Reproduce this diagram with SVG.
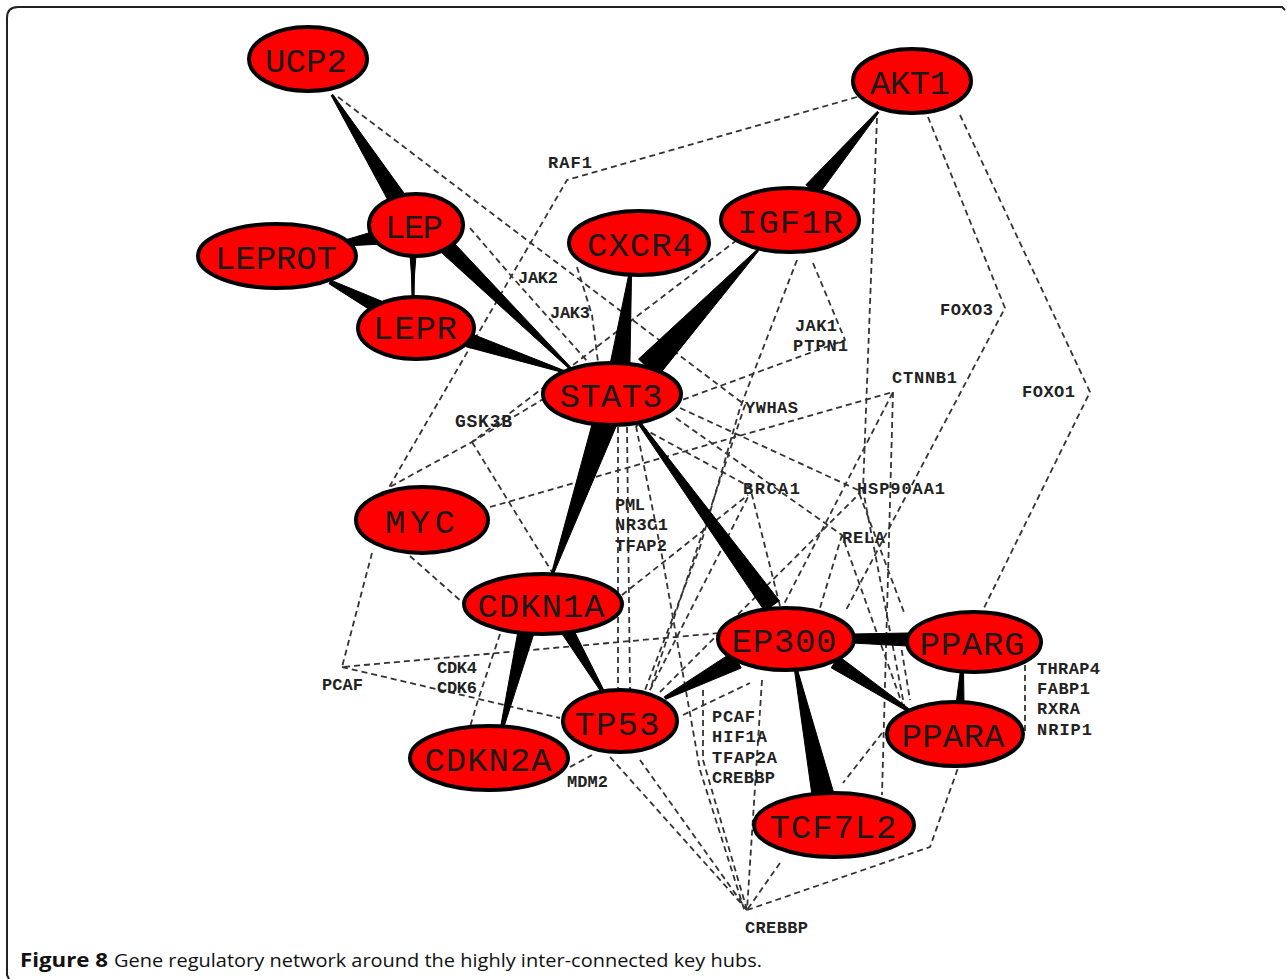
<svg xmlns="http://www.w3.org/2000/svg" width="1287" height="979" viewBox="0 0 1287 979">
<style>
.bg{fill:#fff}
.frame{fill:none;stroke:#222;stroke-width:2}
.d{fill:none;stroke:#333;stroke-width:1.8;stroke-dasharray:6 4}
.w{fill:#000;stroke:#000;stroke-width:1;stroke-linejoin:round}
.n ellipse{fill:#f00;stroke:#000;stroke-width:4}
.n text{font-family:"Liberation Mono","DejaVu Sans Mono",monospace;font-size:34px;fill:#1a1a1a;text-anchor:middle}
.lb{font-family:"Liberation Mono","DejaVu Sans Mono",monospace;font-size:17px;font-weight:bold;fill:#222}
.cap{font-family:"Open Sans","Noto Sans",sans-serif;font-size:19px;fill:#111}
</style>
<rect class="bg" x="0" y="0" width="1287" height="979"/>
<path class="frame" d="M9,979 L7,975 L7,18 Q7,7 18,7 L1282,7 L1285,10"/>

<g id="connectors">
  <g id="dashed">
    <path class="d" d="M857,97 L567,180 L388,489"/>
    <path class="d" d="M338,97 L745,405 L650,690"/>
    <path class="d" d="M470,228 L513,278 L588,362"/>
    <path class="d" d="M577,267 L592,315 L598,362"/>
    <path class="d" d="M737,240 L472,442 L388,488"/>
    <path class="d" d="M472,442 L552,572"/>
    <path class="d" d="M545,398 L472,442"/>
    <path class="d" d="M813,263 L845,340 L682,400"/>
    <path class="d" d="M797,260 L740,408 L700,547 L645,690"/>
    <path class="d" d="M877,118 L863,490 L905,710"/>
    <path class="d" d="M928,117 L1005,308 L845,612"/>
    <path class="d" d="M960,115 L1090,392 L983,610"/>
    <path class="d" d="M490,507 L893,392 L783,606"/>
    <path class="d" d="M893,392 L882,795"/>
    <path class="d" d="M633,423 L750,487 L780,606"/>
    <path class="d" d="M680,408 L858,490 L905,615"/>
    <path class="d" d="M676,418 L842,535 L905,712"/>
    <path class="d" d="M842,535 L820,608"/>
    <path class="d" d="M622,595 L748,495"/>
    <path class="d" d="M618,427 L618,688"/>
    <path class="d" d="M627,427 L630,690"/>
    <path class="d" d="M636,426 L662,556 L700,770 L745,912"/>
    <path class="d" d="M372,553 L342,667 L720,633"/>
    <path class="d" d="M342,667 L560,718"/>
    <path class="d" d="M410,556 L462,602"/>
    <path class="d" d="M500,634 L478,700 L470,727"/>
    <path class="d" d="M610,757 L747,910"/>
    <path class="d" d="M640,760 L747,910"/>
    <path class="d" d="M570,767 L592,755"/>
    <path class="d" d="M683,715 L750,683"/>
    <path class="d" d="M762,680 L747,910"/>
    <path class="d" d="M703,690 L703,760 L747,910"/>
    <path class="d" d="M780,863 L747,910"/>
    <path class="d" d="M747,910 L930,847 L958,768"/>
    <path class="d" d="M882,733 L843,783"/>
    <path class="d" d="M1025,665 L1025,735"/>
    <path class="d" d="M650,690 L748,497"/>
    <path class="d" d="M660,692 L860,493"/>
    <path class="d" d="M900,640 L910,700"/>
  </g>
  <g id="solid">
    <polygon class="w" points="331.2,95.5 332.9,94.5 405.6,195.3 390.4,204.7"/>
    <polygon class="w" points="345,246 345,240 382,229 382,244"/>
    <polygon class="w" points="410,255 416,255 414.5,275 414,300 412,300 411.5,275"/>
    <polygon class="w" points="329.1,283.8 330.9,280.2 383.2,301.8 376.8,314.2"/>
    <polygon class="w" points="439.4,250.7 450.6,239.3 572.7,369.3 571.3,370.7"/>
    <polygon class="w" points="465.8,346.7 470.2,333.3 565.3,371 564.7,373"/>
    <polygon class="w" points="628.5,275.8 631.5,276.2 629.9,366.1 610.1,363.9"/>
    <polygon class="w" points="757.3,249.3 758.7,250.7 657.5,376.9 638.5,359.1"/>
    <polygon class="w" points="877.2,111.4 878.8,112.6 818.1,195.2 805.9,184.8"/>
    <polygon class="w" points="593.7,418.1 616.3,425.9 552.9,575.3 551.1,574.7"/>
    <polygon class="w" points="638.8,424.9 641.2,423.1 779.3,600.7 764.7,611.3"/>
    <polygon class="w" points="518.2,630.1 533.8,633.9 503.5,728.4 500.5,727.6"/>
    <polygon class="w" points="562.8,635 573.2,629 604.3,691.2 601.7,692.8"/>
    <polygon class="w" points="665.7,699.3 664.3,696.7 732.8,652 741.2,668"/>
    <polygon class="w" points="852,634 852,643 908,646 908,633"/>
    <polygon class="w" points="831.2,667.8 838.8,656.2 908.8,708.7 907.2,711.3"/>
    <polygon class="w" points="794.5,670.3 797.5,669.7 833.7,792.7 812.3,797.3"/>
    <polygon class="w" points="960.5,670 963.5,670 964,704 956,704"/>
  </g>
</g>

<g id="labels">
  <text class="lb" x="548" y="168" textLength="44">RAF1</text>
  <text class="lb" x="518" y="283" textLength="40">JAK2</text>
  <text class="lb" x="550" y="318" textLength="40">JAK3</text>
  <text class="lb" x="795" y="331" textLength="42">JAK1</text>
  <text class="lb" x="793" y="351" textLength="55">PTPN1</text>
  <text class="lb" x="940" y="315" textLength="53">FOXO3</text>
  <text class="lb" x="892" y="383" textLength="65">CTNNB1</text>
  <text class="lb" x="1022" y="397" textLength="53">FOXO1</text>
  <text class="lb" x="745" y="413" textLength="53">YWHAS</text>
  <text class="lb" x="455" y="427" textLength="57" style="font-size:18px">GSK3B</text>
  <text class="lb" x="743" y="494" textLength="57">BRCA1</text>
  <text class="lb" x="857" y="494" textLength="88">HSP90AA1</text>
  <text class="lb" x="842" y="543" textLength="43">RELA</text>
  <text class="lb" x="615" y="510" textLength="30">PML</text>
  <text class="lb" x="615" y="530" textLength="53">NR3C1</text>
  <text class="lb" x="615" y="551" textLength="52">TFAP2</text>
  <text class="lb" x="437" y="673" textLength="40">CDK4</text>
  <text class="lb" x="437" y="693" textLength="40">CDK6</text>
  <text class="lb" x="322" y="690" textLength="41">PCAF</text>
  <text class="lb" x="567" y="787" textLength="41">MDM2</text>
  <text class="lb" x="712" y="722" textLength="43">PCAF</text>
  <text class="lb" x="712" y="742" textLength="55">HIF1A</text>
  <text class="lb" x="712" y="763" textLength="65">TFAP2A</text>
  <text class="lb" x="712" y="783" textLength="63">CREBBP</text>
  <text class="lb" x="1037" y="674" textLength="63">THRAP4</text>
  <text class="lb" x="1037" y="694" textLength="53">FABP1</text>
  <text class="lb" x="1037" y="714" textLength="43">RXRA</text>
  <text class="lb" x="1037" y="735" textLength="55">NRIP1</text>
  <text class="lb" x="745" y="933" textLength="63">CREBBP</text>
</g>

<g id="UCP2" class="n"><ellipse cx="308" cy="59" rx="59" ry="32"/><text x="306" y="72" textLength="82">UCP2</text></g>
<g id="AKT1" class="n"><ellipse cx="912" cy="81" rx="59" ry="32"/><text x="910" y="94" textLength="80">AKT1</text></g>
<g id="LEP" class="n"><ellipse cx="416" cy="225" rx="47" ry="31"/><text x="414" y="238" textLength="58">LEP</text></g>
<g id="LEPROT" class="n"><ellipse cx="277" cy="256" rx="79" ry="32"/><text x="276" y="269" textLength="122">LEPROT</text></g>
<g id="LEPR" class="n"><ellipse cx="416" cy="328" rx="58" ry="31"/><text x="415" y="339" textLength="84">LEPR</text></g>
<g id="CXCR4" class="n"><ellipse cx="639" cy="243" rx="70" ry="32"/><text x="640" y="256" textLength="106">CXCR4</text></g>
<g id="IGF1R" class="n"><ellipse cx="790" cy="220" rx="69" ry="32"/><text x="790" y="233" textLength="106">IGF1R</text></g>
<g id="STAT3" class="n"><ellipse cx="612" cy="394" rx="69" ry="31"/><text x="611" y="407" textLength="103">STAT3</text></g>
<g id="MYC" class="n"><ellipse cx="422" cy="520" rx="66" ry="33"/><text x="420" y="533" textLength="70">MYC</text></g>
<g id="CDKN1A" class="n"><ellipse cx="543" cy="604" rx="79" ry="30"/><text x="541" y="617" textLength="127">CDKN1A</text></g>
<g id="EP300" class="n"><ellipse cx="786" cy="639" rx="68" ry="31"/><text x="784" y="652" textLength="105">EP300</text></g>
<g id="PPARG" class="n"><ellipse cx="974" cy="642" rx="67" ry="30"/><text x="972" y="655" textLength="105">PPARG</text></g>
<g id="PPARA" class="n"><ellipse cx="955" cy="734" rx="68" ry="32"/><text x="953" y="747" textLength="103">PPARA</text></g>
<g id="TP53" class="n"><ellipse cx="620" cy="721" rx="57" ry="31"/><text x="617" y="735" textLength="85">TP53</text></g>
<g id="CDKN2A" class="n"><ellipse cx="489" cy="758" rx="79" ry="32"/><text x="488" y="771" textLength="127">CDKN2A</text></g>
<g id="TCF7L2" class="n"><ellipse cx="834" cy="825" rx="80" ry="32"/><text x="833" y="838" textLength="127">TCF7L2</text></g>

<g id="caption">
  <text class="cap" x="20" y="967" font-weight="bold" textLength="88" lengthAdjust="spacingAndGlyphs">Figure 8</text>
  <text class="cap" x="114" y="967" textLength="648" lengthAdjust="spacingAndGlyphs">Gene regulatory network around the highly inter-connected key hubs.</text>
</g>
</svg>
